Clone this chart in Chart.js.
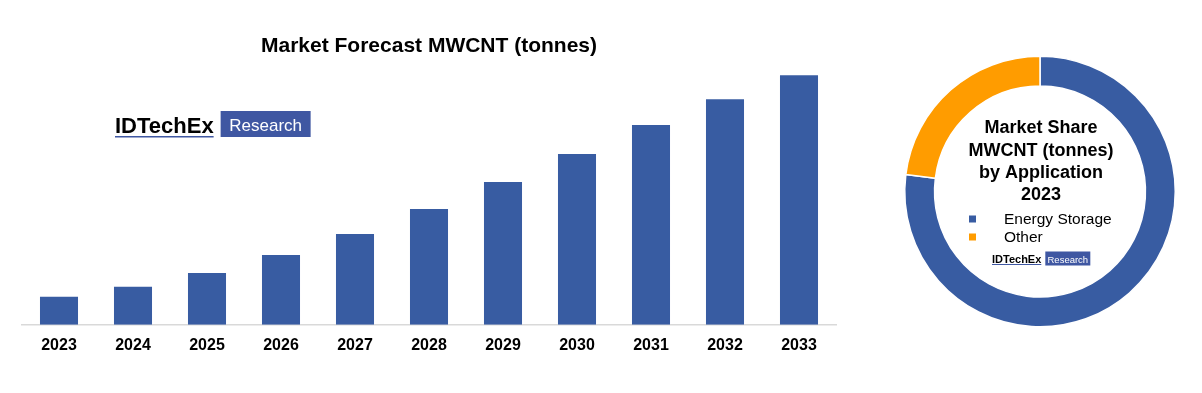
<!DOCTYPE html>
<html>
<head>
<meta charset="utf-8">
<script src="https://cdn.jsdelivr.net/npm/chart.js@4.4.1/dist/chart.umd.min.js"></script>
<style>
    body { margin: 0; background: #fff; }
    #wrap { position: relative; width: 1202px; height: 393px; }
    #barBox { position: absolute; left: 0; top: 0; width: 850px; height: 393px; }
    #pieBox { position: absolute; left: 890px; top: 0; width: 312px; height: 393px; }
</style>
</head>
<body>
<div id="wrap">
    <div id="barBox"><canvas id="bars"></canvas></div>
    <div id="pieBox"><canvas id="share"></canvas></div>
</div>
<script>
const years = ['2023', '2024', '2025', '2026', '2027', '2028', '2029', '2030', '2031', '2032', '2033'];
const tonnes = [28000, 38000, 52000, 70000, 91000, 116000, 143000, 171000, 200000, 226000, 250000];

const shareLabels = ['Energy Storage', 'Other'];
const shareValues = [77, 23];
const shareTitle = ['Market Share', 'MWCNT (tonnes)', 'by Application', '2023'];

const BLUE = '#385ca2';
const ORANGE = '#ff9c00';
const LOGO_BLUE = '#3f57a2';
const FONT = '"Liberation Sans", Arial, sans-serif';

// draws the IDTechEx badge, x/y = top-left of the word mark
function drawLogo(ctx, x, y, big) {
    const s = big ? 1 : 0.5;
    ctx.save();
    ctx.textBaseline = 'alphabetic';
    ctx.textAlign = 'left';
    ctx.fillStyle = '#000';
    ctx.font = `bold ${big ? 22 : 11}px ${FONT}`;
    const w = ctx.measureText('IDTechEx').width;
    ctx.fillText('IDTechEx', x, y + 21 * s);
    ctx.fillStyle = LOGO_BLUE;
    ctx.fillRect(x, y + 24 * s, w, big ? 1.5 : 1);
    const bx = x + w + (big ? 7 : 4);
    const bw = big ? 90 : 45;
    ctx.fillRect(bx, y - 1 * s, bw, big ? 26 : 14);
    ctx.fillStyle = '#fff';
    ctx.font = `${big ? 17 : 9.5}px ${FONT}`;
    ctx.textAlign = 'center';
    ctx.fillText('Research', bx + bw / 2, y + (big ? 19 : 11));
    ctx.restore();
}

const barLogo = {
    id: 'barLogo',
    afterDraw(chart) {
        drawLogo(chart.ctx, 115, 112, true);
    }
};

new Chart(document.getElementById('bars'), {
    type: 'bar',
    data: {
        labels: years,
        datasets: [{
            data: tonnes,
            backgroundColor: BLUE,
            categoryPercentage: 1,
            barPercentage: 0.514
        }]
    },
    options: {
        responsive: true,
        maintainAspectRatio: false,
        animation: false,
        layout: { padding: { left: 22, right: 14, top: 0, bottom: 27 } },
        plugins: {
            legend: { display: false },
            tooltip: { enabled: false },
            title: {
                display: true,
                text: 'Market Forecast MWCNT (tonnes)',
                color: '#000',
                font: { family: FONT, size: 21, weight: 'bold' },
                padding: { top: 34, bottom: 1 }
            }
        },
        scales: {
            x: {
                grid: { display: false, drawTicks: false },
                border: { display: true, color: '#d9d9d9', width: 1.5 },
                ticks: {
                    color: '#000',
                    padding: 11,
                    font: { family: FONT, size: 16, weight: 'bold' }
                }
            },
            y: {
                display: false,
                min: 0,
                max: 265000
            }
        }
    },
    plugins: [barLogo]
});

const centerText = {
    id: 'centerText',
    afterDraw(chart) {
        const ctx = chart.ctx;
        const cx = 151;
        ctx.save();
        ctx.fillStyle = '#000';
        ctx.textAlign = 'center';
        ctx.textBaseline = 'middle';
        ctx.font = `bold 18px ${FONT}`;
        const ys = [128, 151, 173, 195];
        shareTitle.forEach((t, i) => ctx.fillText(t, cx, ys[i]));

        // legend
        const colors = chart.data.datasets[0].backgroundColor;
        ctx.font = `15.5px ${FONT}`;
        ctx.textAlign = 'left';
        chart.data.labels.forEach((lab, i) => {
            const ly = 219 + i * 18;
            ctx.fillStyle = colors[i];
            ctx.fillRect(79, ly - 3.5, 7, 7);
            ctx.fillStyle = '#000';
            ctx.fillText(lab, 114, ly + 1);
        });
        ctx.restore();
        drawLogo(ctx, 102, 252, false);
    }
};

new Chart(document.getElementById('share'), {
    type: 'doughnut',
    data: {
        labels: shareLabels,
        datasets: [{
            data: shareValues,
            backgroundColor: [BLUE, ORANGE],
            borderColor: '#fff',
            borderWidth: 1.5
        }]
    },
    options: {
        responsive: true,
        maintainAspectRatio: false,
        animation: false,
        cutout: '78%',
        layout: { padding: { left: 14, right: 26, top: 55, bottom: 65 } },
        plugins: {
            legend: { display: false },
            tooltip: { enabled: false }
        }
    },
    plugins: [centerText]
});
</script>
</body>
</html>
